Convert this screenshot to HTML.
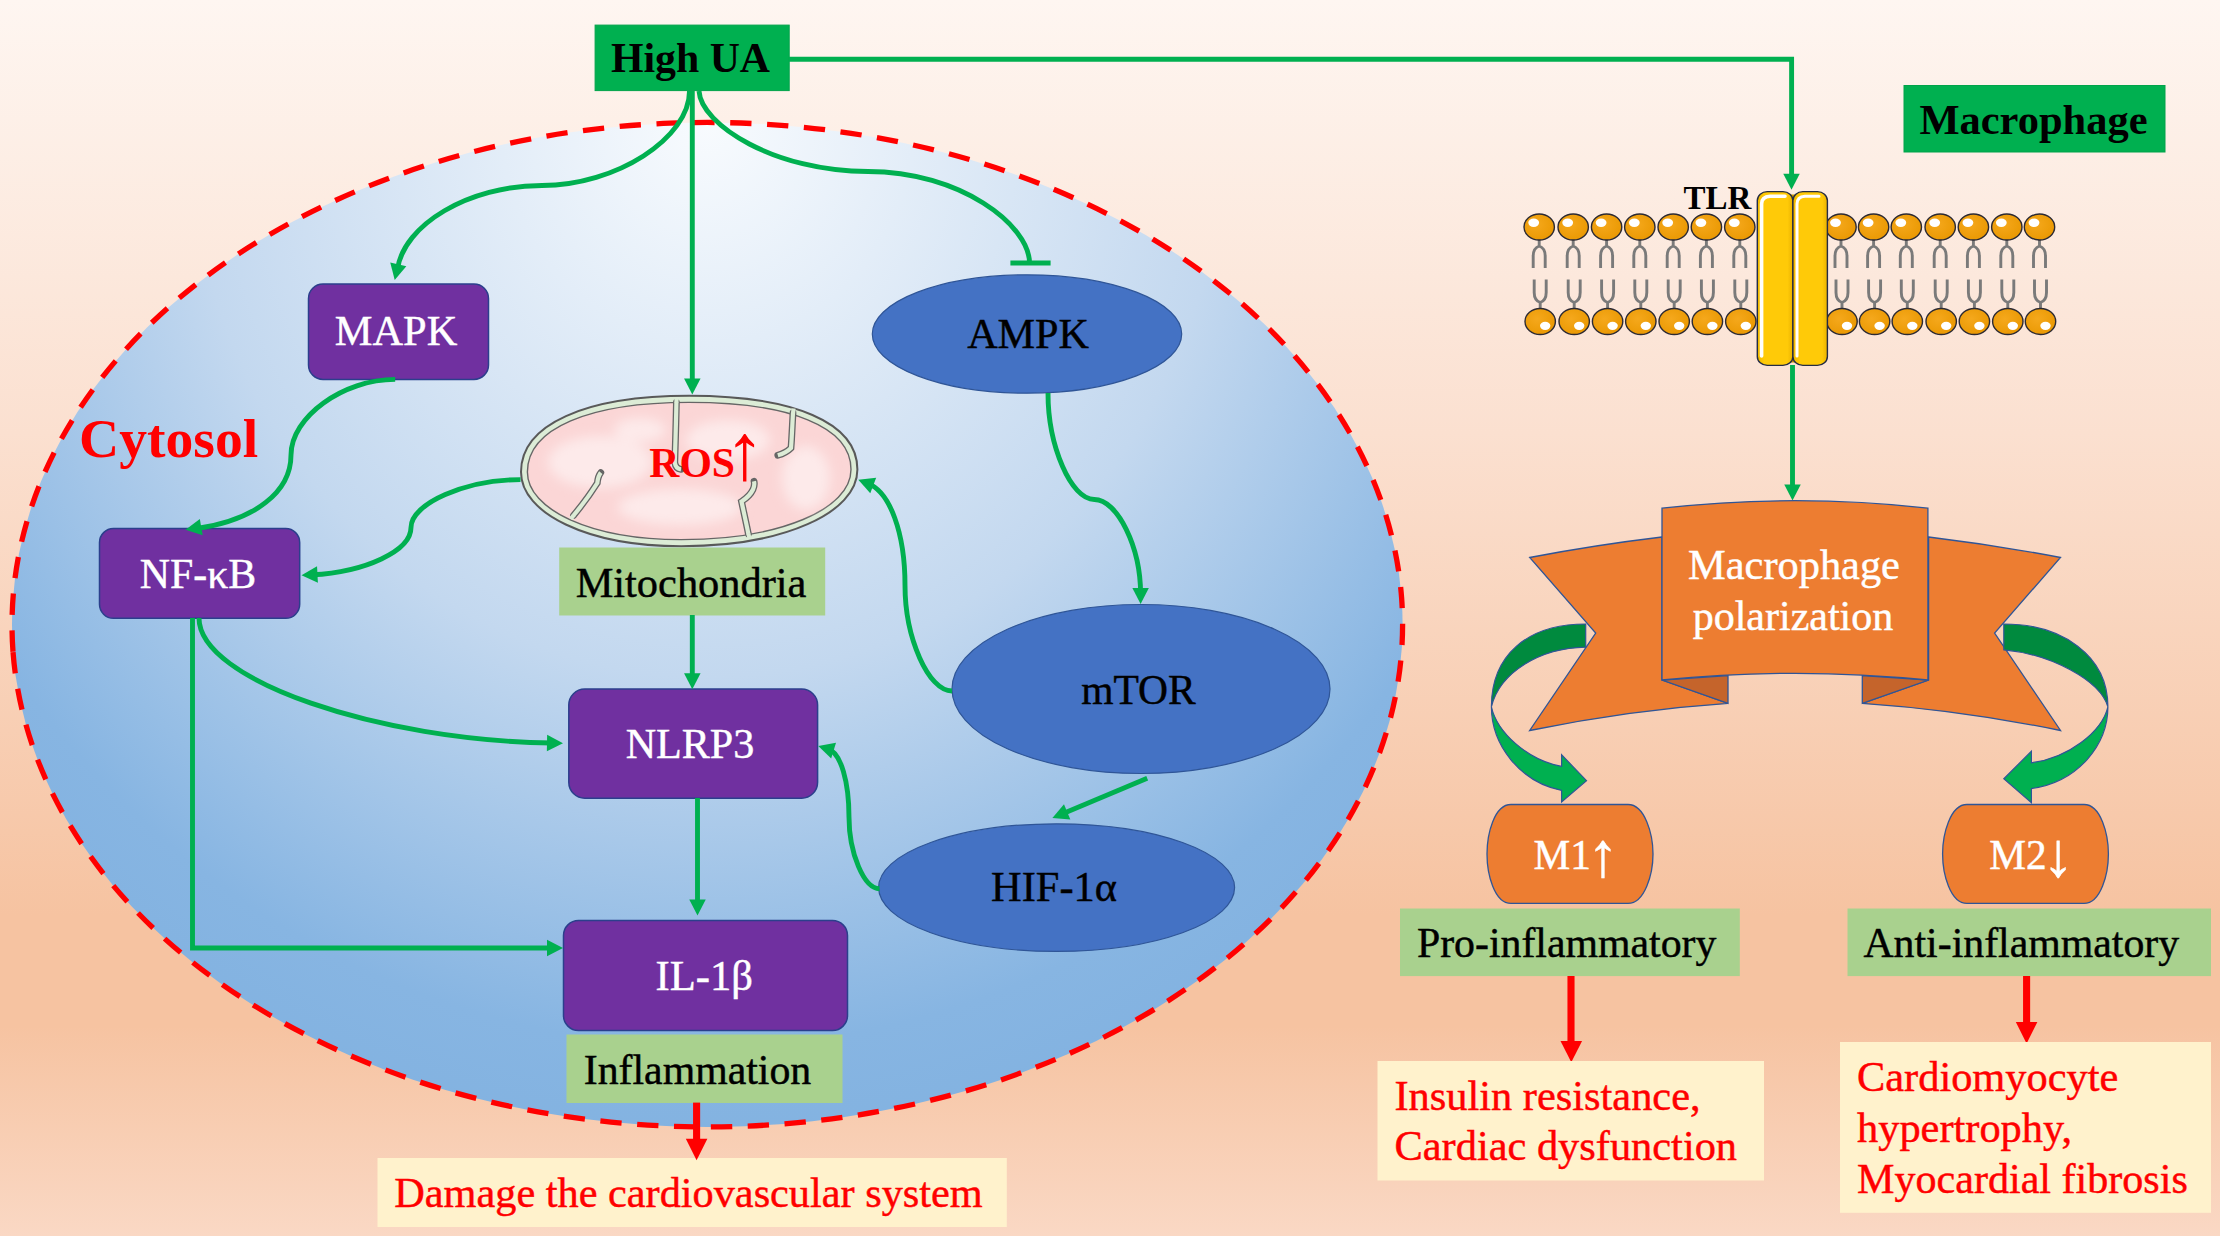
<!DOCTYPE html>
<html lang="en">
<head>
<meta charset="utf-8">
<title>High UA signalling diagram</title>
<style>
html,body{margin:0;padding:0;background:#f9d5bf;}
body{width:2220px;height:1236px;overflow:hidden;}
svg{display:block;}
text{font-family:"Liberation Serif","Times New Roman",serif;font-size:42.4px;}
.b{font-weight:bold;}
text:not(.b){stroke-width:0.45px;}
text.w{stroke:#fff;}
text.r:not(.b){stroke:#ff0000;}
text.k{stroke:#000;}
.w{fill:#fff;}
.r{fill:#ff0000;}
.g{fill:none;stroke:#00b050;stroke-width:4.9;stroke-linecap:butt;stroke-linejoin:miter;}
.ra{stroke:#ff0000;stroke-width:7.1;fill:none;}
.pb{fill:#7030a0;stroke:#2b3f8c;stroke-width:1.5;}
.el{fill:#4472c4;stroke:#2f5597;stroke-width:1.2;}
.lab{fill:#a9d18e;}
.out{fill:#fff2cc;}
.or{fill:#ed7d31;stroke:#2f5597;stroke-width:1.3;stroke-linejoin:miter;}
</style>
</head>
<body>
<svg width="2220" height="1236" viewBox="0 0 2220 1236">
<defs>
  <linearGradient id="bg" x1="0" y1="0" x2="0" y2="1">
    <stop offset="0" stop-color="#fef6f1"/>
    <stop offset="0.35" stop-color="#fbe0d0"/>
    <stop offset="0.74" stop-color="#f6c3a1"/>
    <stop offset="0.83" stop-color="#f6c3a1"/>
    <stop offset="1" stop-color="#fad8c4"/>
  </linearGradient>
  <radialGradient id="cell" cx="0" cy="0" r="1" gradientTransform="translate(0.5,0.0) scale(0.775,1.15)">
    <stop offset="0" stop-color="#f8fbfe"/>
    <stop offset="0.48" stop-color="#c3d8ef"/>
    <stop offset="0.8" stop-color="#87b5e2"/>
    <stop offset="1" stop-color="#7dafdf"/>
  </radialGradient>
  <radialGradient id="hd" cx="0.4" cy="0.4" r="0.7">
    <stop offset="0" stop-color="#f5a81c"/><stop offset="1" stop-color="#e99700"/>
  </radialGradient>
  <linearGradient id="cyl" x1="0" y1="0" x2="1" y2="0">
    <stop offset="0" stop-color="#f0b800"/><stop offset="0.2" stop-color="#ffca08"/><stop offset="0.85" stop-color="#ffca08"/><stop offset="1" stop-color="#eab200"/>
  </linearGradient>
  <filter id="blur5" x="-20%" y="-20%" width="140%" height="140%"><feGaussianBlur stdDeviation="6"/></filter>
  <g id="lipT">
    <path d="M0,12 V19 M0,19 C-5.5,21 -6,25 -6,29 V41 M0,19 C5.5,21 6,25 6,29 V41" fill="none" stroke="#7a7a7a" stroke-width="2.9"/>
    <ellipse cx="0" cy="0" rx="15.2" ry="13" fill="url(#hd)" stroke="#2c2a33" stroke-width="1.4"/>
    <ellipse cx="-5.5" cy="-4.2" rx="5.4" ry="4.2" fill="#fff"/>
  </g>
  <g id="lipB">
    <path d="M0,-12 V-19 M0,-19 C-5.5,-21 -6,-25 -6,-29 V-42 M0,-19 C5.5,-21 6,-25 6,-29 V-42" fill="none" stroke="#7a7a7a" stroke-width="2.9"/>
    <ellipse cx="0" cy="0" rx="15.2" ry="13" fill="url(#hd)" stroke="#2c2a33" stroke-width="1.4"/>
    <ellipse cx="5" cy="4.3" rx="5.2" ry="4.1" fill="#fff"/>
  </g>
</defs>

<!-- background -->
<rect x="0" y="0" width="2220" height="1236" fill="url(#bg)"/>

<!-- cell -->
<path d="M13.00,651.70 A695.3,502.4 0 0 1 1401.60,597.70 A695.3,502.4 0 0 1 13.00,651.70 Z" fill="url(#cell)" stroke="#ff0000" stroke-width="5.3" stroke-dasharray="21.345 15.560"/>

<g id="left-nodes">
  <rect x="595.1" y="25.1" width="194.1" height="65.5" fill="#00b050" stroke="#00a34a" stroke-width="1"/>
  <text class="b" x="690.5" y="72" text-anchor="middle" style="font-size:41.8px">High UA</text>
  <rect class="pb" x="308.5" y="284" width="180" height="95.4" rx="14.5"/>
  <text class="w" x="396" y="345" text-anchor="middle">MAPK</text>
  <ellipse class="el" cx="1027" cy="334" rx="154.7" ry="59.2"/>
  <text class="k" x="1028.1" y="347.6" text-anchor="middle" style="font-size:42.2px">AMPK</text>
  <text class="b r" x="79" y="456.6" style="font-size:55.6px">Cytosol</text>
  <g id="mito">
    <path d="M521.0,472.0 C521.0,424.4 584.9,395.8 689.2,395.8 C793.5,395.8 857.4,422.4 857.4,469.5 C857.4,513.1 783.4,546.2 681.2,546.2 C587.0,546.2 521.0,513.1 521.0,472.0 Z" fill="#dcecd6" stroke="#595959" stroke-width="2"/>
    <path d="M527.4,472.0 C527.4,428.5 588.9,402.4 689.2,402.4 C789.5,402.4 851.0,426.5 851.0,469.5 C851.0,509.4 779.8,539.6 681.2,539.6 C590.6,539.6 527.4,509.4 527.4,472.0 Z" fill="#fbd6d6" stroke="#666" stroke-width="1.4"/>
    <g filter="url(#blur5)" fill="#fdeaea">
      <ellipse cx="600" cy="462" rx="52" ry="26"/>
      <ellipse cx="728" cy="440" rx="42" ry="20"/>
      <ellipse cx="680" cy="507" rx="62" ry="18"/>
      <ellipse cx="806" cy="478" rx="24" ry="32"/>
      <ellipse cx="640" cy="430" rx="26" ry="12"/>
    </g>
    <g fill="none">
      <path d="M676.4,402.5 C676,425 675.3,445 674.8,462.5 Q675.5,468.5 681,469.3" stroke="#666" stroke-width="6.8" stroke-linecap="round"/>
      <path d="M793,413 C792.3,425 791.8,438 791,448 Q786,453 777.8,455.3" stroke="#666" stroke-width="6.8" stroke-linecap="round"/>
      <path d="M573.5,515.5 C583,504 591,493 597.3,483 Q598,476 600.8,472.6" stroke="#666" stroke-width="6.8" stroke-linecap="round"/>
      <path d="M748.4,534 C746,522 743.5,511 741.5,501.5 Q750,496 753,489.5 Q755,485 754,481.2" stroke="#666" stroke-width="6.8" stroke-linecap="round"/>
      <path d="M676.6,398.5 L676.4,403 " stroke="#dcecd6" stroke-width="4.2" stroke-linecap="butt"/>
      <path d="M676.4,402.5 C676,425 675.3,445 674.8,462.5 Q675.5,468.5 681,469.3" stroke="#dcecd6" stroke-width="4.2" stroke-linecap="butt"/>
      <path d="M793.6,408.5 L793,413.5 " stroke="#dcecd6" stroke-width="4.2" stroke-linecap="butt"/>
      <path d="M793,413 C792.3,425 791.8,438 791,448 Q786,453 777.8,455.3" stroke="#dcecd6" stroke-width="4.2" stroke-linecap="butt"/>
      <path d="M570.8,519 L573.8,515 " stroke="#dcecd6" stroke-width="4.2" stroke-linecap="butt"/>
      <path d="M573.5,515.5 C583,504 591,493 597.3,483 Q598,476 600.8,472.6" stroke="#dcecd6" stroke-width="4.2" stroke-linecap="butt"/>
      <path d="M749.5,538.5 L748.3,533.5 " stroke="#dcecd6" stroke-width="4.2" stroke-linecap="butt"/>
      <path d="M748.4,534 C746,522 743.5,511 741.5,501.5 Q750,496 753,489.5 Q755,485 754,481.2" stroke="#dcecd6" stroke-width="4.2" stroke-linecap="butt"/>
    </g>
  </g>
  <text class="b r" x="649.3" y="476.6" style="font-size:41.7px">ROS<tspan dx="-10.4" dy="2" style="font-size:80px;font-weight:normal">↑</tspan></text>
  <rect class="lab" x="559.2" y="547.5" width="266" height="68"/>
  <text class="k" x="691" y="596.6" text-anchor="middle">Mitochondria</text>
  <rect class="pb" x="99.5" y="528.5" width="200.2" height="89.8" rx="14"/>
  <text class="w" x="198" y="588" text-anchor="middle" style="font-size:41.8px">NF-κB</text>
  <rect class="pb" x="568.8" y="689" width="248.8" height="109.2" rx="16"/>
  <text class="w" x="690" y="758" text-anchor="middle" style="font-size:42.1px">NLRP3</text>
  <ellipse class="el" cx="1141" cy="689" rx="189" ry="84.5"/>
  <text class="k" x="1138.4" y="704" text-anchor="middle" style="font-size:41.5px">mTOR</text>
  <ellipse class="el" cx="1056.6" cy="887.6" rx="178" ry="63.8"/>
  <text class="k" x="1054" y="901.3" text-anchor="middle">HIF-1α</text>
  <rect class="pb" x="563.5" y="920.5" width="284" height="110" rx="15"/>
  <text class="w" x="704.3" y="990" text-anchor="middle" style="font-size:42.6px">IL-1β</text>
  <rect class="lab" x="566.5" y="1034.5" width="276" height="68.5"/>
  <text class="k" x="697.5" y="1083.8" text-anchor="middle" style="font-size:41.8px">Inflammation</text>
  <rect class="out" x="377.5" y="1158" width="629.3" height="69"/>
  <text class="r" x="688.5" y="1207" text-anchor="middle" style="font-size:42.3px">Damage the cardiovascular system</text>
</g>

<g id="left-arrows">
  <path class="g" d="M789,59.2 H1791.6 V179"/>
  <path d="M0,0 L-16,-8.25 L-16,8.25 Z" fill="#00b050" transform="translate(1791.5,189.8) rotate(90.0)"/>
  <path class="g" d="M692.3,91 V384"/>
  <path d="M0,0 L-16,-8.25 L-16,8.25 Z" fill="#00b050" transform="translate(692.3,394.6) rotate(90.0)"/>
  <path class="g" d="M689.5,91 C689.5,138.2 615.8,185.5 542,185.5 C468,185.5 404,225 397.5,269"/>
  <path d="M0,0 L-16,-8.25 L-16,8.25 Z" fill="#00b050" transform="translate(394.7,280.0) rotate(103.0)"/>
  <path class="g" d="M699,91 C701,125 775,171.5 868,171.5 C960,171.5 1029.5,225 1029.5,263"/>
  <path class="g" d="M1010.4,263 H1050.6"/>
  <path class="g" d="M395.2,379.4 C343,379.4 291,417 291,455 C291,492 255,520 197,528.5"/>
  <path d="M0,0 L-16,-8.25 L-16,8.25 Z" fill="#00b050" transform="translate(185.5,529.8) rotate(170.0)"/>
  <path class="g" d="M520.5,479.6 C466,479.6 411,503.5 411,527.5 C411,551 365,572 312,574.8"/>
  <path d="M0,0 L-16,-8.25 L-16,8.25 Z" fill="#00b050" transform="translate(301.5,575.3) rotate(177.0)"/>
  <path class="g" d="M192.5,618 V948 H552"/>
  <path d="M0,0 L-16,-8.25 L-16,8.25 Z" fill="#00b050" transform="translate(563.0,948.0) rotate(0.0)"/>
  <path class="g" d="M199,618 C199,680.5 380,741 552,743"/>
  <path d="M0,0 L-16,-8.25 L-16,8.25 Z" fill="#00b050" transform="translate(563.0,743.2) rotate(1.0)"/>
  <path class="g" d="M692.3,615 V679"/>
  <path d="M0,0 L-16,-8.25 L-16,8.25 Z" fill="#00b050" transform="translate(692.3,689.3) rotate(90.0)"/>
  <path class="g" d="M697.5,798 V905"/>
  <path d="M0,0 L-16,-8.25 L-16,8.25 Z" fill="#00b050" transform="translate(697.5,915.5) rotate(90.0)"/>
  <path class="g" d="M1048.0,393.0 C1048.0,446.2 1071.2,499.5 1094.3,499.5 C1117.4,499.5 1140.6,546.8 1140.6,594.0"/>
  <path d="M0,0 L-16,-8.25 L-16,8.25 Z" fill="#00b050" transform="translate(1140.6,604.0) rotate(90.0)"/>
  <path class="g" d="M952,691 C928.5,691 905,638 905,585.3 C905,533 890,492 868,483.5"/>
  <path d="M0,0 L-16,-8.25 L-16,8.25 Z" fill="#00b050" transform="translate(858.3,479.8) rotate(201.0)"/>
  <path class="g" d="M1147.2,778.3 L1062,814"/>
  <path d="M0,0 L-16,-8.25 L-16,8.25 Z" fill="#00b050" transform="translate(1052.4,818.0) rotate(157.3)"/>
  <path class="g" d="M879.5,888.7 C864,888.7 849,853 849,817.3 C849,782 841,753 828,748.6"/>
  <path d="M0,0 L-16,-8.25 L-16,8.25 Z" fill="#00b050" transform="translate(818.3,746.0) rotate(197.0)"/>
  <path class="ra" d="M696.6,1102.6 V1140"/>
  <path d="M0,0 L-21.4,-10.8 L-21.4,10.8 Z" fill="#ff0000" transform="translate(696.6,1160.2) rotate(90.0)"/>
</g>

<g id="right">
  <rect x="1904" y="85.5" width="261" height="66.5" fill="#00b050" stroke="#00a34a" stroke-width="1"/>
  <text class="b" x="2033.5" y="133.6" text-anchor="middle" style="font-size:42.5px">Macrophage</text>
  <g id="membrane">
    <use href="#lipT" x="1539.2" y="227"/>
    <use href="#lipT" x="1573.2" y="227"/>
    <use href="#lipT" x="1606.6" y="227"/>
    <use href="#lipT" x="1639.8" y="227"/>
    <use href="#lipT" x="1673.2" y="227"/>
    <use href="#lipT" x="1706.4" y="227"/>
    <use href="#lipT" x="1739.8" y="227"/>
    <use href="#lipT" x="1841.0" y="227"/>
    <use href="#lipT" x="1873.6" y="227"/>
    <use href="#lipT" x="1906.3" y="227"/>
    <use href="#lipT" x="1940.2" y="227"/>
    <use href="#lipT" x="1973.4" y="227"/>
    <use href="#lipT" x="2006.8" y="227"/>
    <use href="#lipT" x="2039.5" y="227"/>
    <use href="#lipB" x="1540.2" y="321.5"/>
    <use href="#lipB" x="1574.2" y="321.5"/>
    <use href="#lipB" x="1607.6" y="321.5"/>
    <use href="#lipB" x="1640.8" y="321.5"/>
    <use href="#lipB" x="1674.2" y="321.5"/>
    <use href="#lipB" x="1707.4" y="321.5"/>
    <use href="#lipB" x="1740.8" y="321.5"/>
    <use href="#lipB" x="1842.0" y="321.5"/>
    <use href="#lipB" x="1874.6" y="321.5"/>
    <use href="#lipB" x="1907.3" y="321.5"/>
    <use href="#lipB" x="1941.2" y="321.5"/>
    <use href="#lipB" x="1974.4" y="321.5"/>
    <use href="#lipB" x="2007.8" y="321.5"/>
    <use href="#lipB" x="2040.5" y="321.5"/>
  </g>
  <g id="tlr">
    <path d="M1782,194.5 h21 v168 h-21 Z" fill="#c99700"/>
    <rect x="1757.3" y="191.6" width="35.6" height="173.8" rx="10" ry="9" fill="url(#cyl)" stroke="#252c44" stroke-width="1.4"/>
    <rect x="1792.9" y="191.6" width="34.5" height="173.8" rx="10" ry="9" fill="url(#cyl)" stroke="#252c44" stroke-width="1.4"/>
    <path d="M1761.6,356 V204 Q1761.6,196.6 1770,196.2 H1785" stroke="#fff" stroke-width="3.6" fill="none" stroke-linecap="round"/>
    <path d="M1797,356 V204 Q1797,196.6 1805,196.2 H1819" stroke="#fff" stroke-width="3" fill="none" stroke-linecap="round"/>
  </g>
  <text class="b" x="1683.6" y="208.9" style="font-size:33px">TLR</text>
  <path class="g" d="M1792.5,365 V490"/>
  <path d="M0,0 L-16,-8.25 L-16,8.25 Z" fill="#00b050" transform="translate(1792.5,500.5) rotate(90.0)"/>
  <g id="ribbon">
    <path class="or" d="M1662,537 Q1595,545 1529.7,557.5 L1595.7,633 L1529.7,730.5 Q1630,710 1728,703.4 L1662,680 Z"/>
    <path class="or" d="M1928.6,537 Q1995,545 2060.5,557.5 L1994.6,633 L2060.5,730.5 Q1960,710 1862.3,703.4 L1928.6,680 Z"/>
    <path class="or" style="fill:#c5642b" d="M1662,680 L1728,703.4 V675.5 Z"/>
    <path class="or" style="fill:#c5642b" d="M1928.6,680 L1862.3,703.4 V675.5 Z"/>
    <path class="or" d="M1662,508.2 Q1795.3,493.2 1927.9,508.2 V680 Q1795.3,666.6 1662,680 Z"/>
  </g>
  <text class="w" x="1794" y="579" text-anchor="middle">Macrophage</text>
  <text class="w" x="1793" y="630" text-anchor="middle" style="font-size:42px">polarization</text>
  <g id="curved" stroke="#2f5597" stroke-width="1.2" stroke-linejoin="miter">
    <path fill="#00b050" d="M1491.4,706.8 C1491.4,745 1520,782 1561.6,790.4 V802 L1586.5,780.6 L1561.6,754.8 V766.4 C1527,760 1497,732 1491.4,706.8 Z"/>
    <path fill="#008a3e" d="M1585.7,624 C1527,624 1491.4,655.5 1491.4,706.8 C1500,672 1540,648 1585.7,647.2 Z"/>
    <path fill="#00b050" d="M2107.9,706.8 C2107.9,745 2078,782 2031.4,788.6 V802.8 L2003.8,778.8 L2031.4,751.2 V762.8 C2068,758 2102,732 2107.9,706.8 Z"/>
    <path fill="#008a3e" d="M2003.8,624 C2062,624 2107.9,655.5 2107.9,706.8 C2100,680 2050,654 2003.8,649.8 Z"/>
  </g>
  <path class="or" d="M1511,804.5 H1628 C1645,804.5 1653,834.5 1653,853.95 C1653,873.4 1645,903.4 1628,903.4 H1511 C1494,903.4 1487,873.4 1487,853.95 C1487,834.5 1494,804.5 1511,804.5 Z"/>
  <text class="w" x="1533.5" y="869" style="font-size:41.3px">M1<tspan dx="-3.7" dy="7" style="font-size:62.7px">↑</tspan></text>
  <path class="or" d="M1967,804.5 H2084 C2101,804.5 2108.4,834.5 2108.4,853.95 C2108.4,873.4 2101,903.4 2084,903.4 H1967 C1950,903.4 1942.6,873.4 1942.6,853.95 C1942.6,834.5 1950,804.5 1967,804.5 Z"/>
  <text class="w" x="1989.3" y="869" style="font-size:41.3px">M2<tspan dx="-4.2" dy="7" style="font-size:62.7px">↓</tspan></text>
  <rect class="lab" x="1400" y="908.5" width="339.8" height="67.6"/>
  <text class="k" x="1566.7" y="956.9" text-anchor="middle" style="font-size:41.8px">Pro-inflammatory</text>
  <rect class="lab" x="1847.5" y="908.5" width="363.5" height="67.6"/>
  <text class="k" x="2021.3" y="956.9" text-anchor="middle" style="font-size:41.8px">Anti-inflammatory</text>
  <path class="ra" d="M1571,976 V1042"/>
  <path d="M0,0 L-21.4,-10.8 L-21.4,10.8 Z" fill="#ff0000" transform="translate(1571.3,1062.3) rotate(90.0)"/>
  <path class="ra" d="M2026.6,976 V1024"/>
  <path d="M0,0 L-21.4,-10.8 L-21.4,10.8 Z" fill="#ff0000" transform="translate(2026.6,1043.5) rotate(90.0)"/>
  <rect class="out" x="1377.5" y="1061" width="386.5" height="119.5"/>
  <text class="r" x="1394.5" y="1110.3">Insulin resistance,</text>
  <text class="r" x="1394.5" y="1160.2">Cardiac dysfunction</text>
  <rect class="out" x="1840" y="1042" width="371" height="170.8"/>
  <text class="r" x="1857" y="1090.6">Cardiomyocyte</text>
  <text class="r" x="1857" y="1142.2">hypertrophy,</text>
  <text class="r" x="1857" y="1192.6" style="font-size:42.1px">Myocardial fibrosis</text>
</g>
</svg>
</body>
</html>
